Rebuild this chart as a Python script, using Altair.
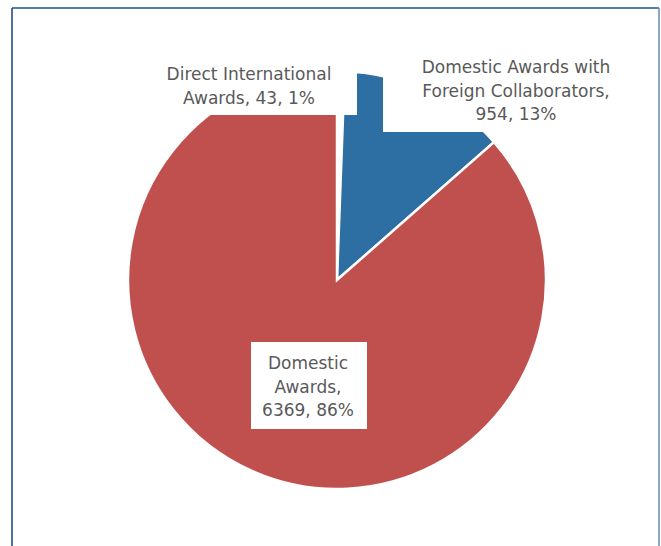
import altair as alt
import pandas as pd

# ---- data ----
categories = ["Direct International Awards",
              "Domestic Awards with Foreign Collaborators",
              "Domestic Awards"]
values = [43, 954, 6369]
name_lines = [["Direct International", "Awards"],
              ["Domestic Awards with", "Foreign Collaborators"],
              ["Domestic", "Awards"]]
colors = ["#ffffff", "#2d6ea3", "#c0504d"]

total = sum(values)
labels = []
for lines, v in zip(name_lines, values):
    pct = round(100 * v / total)
    if lines[0] == "Direct International":
        labels.append(f"{lines[0]}\n{lines[1]}, {v}, {pct}%")
    else:
        labels.append(f"{lines[0]}\n{lines[1]},\n{v}, {pct}%")

df = pd.DataFrame({"category": categories, "value": values,
                   "idx": list(range(len(categories))), "label": labels})

W, H = 661, 546
CX, CY, R = 337, 280, 209
TEXT = "#595959"
FONT = "DejaVu Sans"

base = alt.Chart(df)

pie = base.mark_arc(radius=R, stroke="white", strokeWidth=2.5).encode(
    theta=alt.Theta("value:Q", stack=True),
    order=alt.Order("idx:Q"),
    color=alt.Color("category:N",
                    scale=alt.Scale(domain=categories, range=colors),
                    legend=None),
    x=alt.value(CX), y=alt.value(CY),
)

def box(x1, x2, y1, y2):
    return alt.Chart(pd.DataFrame({"a": [0]})).mark_rect(fill="white").encode(
        x=alt.value(x1), x2=alt.value(x2), y=alt.value(y1), y2=alt.value(y2))

boxes = [box(143, 357, 55, 115), box(383, 655, 45, 132), box(251, 367, 342, 429)]

def label(cat, x, y):
    return base.transform_filter(alt.datum.category == cat).mark_text(
        font=FONT, fontSize=17, color=TEXT, align="center",
        baseline="alphabetic", lineBreak="\n", lineHeight=23.5
    ).encode(text="label:N", x=alt.value(x), y=alt.value(y))

texts = [label(categories[0], 249, 80),
         label(categories[1], 516, 73),
         label(categories[2], 308, 369)]

def rule(x1, x2, y1, y2, c):
    return alt.Chart(pd.DataFrame({"a": [0]})).mark_rule(color=c, strokeWidth=1.6).encode(
        x=alt.value(x1), x2=alt.value(x2), y=alt.value(y1), y2=alt.value(y2))

border = [rule(12, 12, 8, H, "#1f4e8c"),
          rule(12, 659, 8, 8, "#1f4e8c"),
          rule(659, 659, 8, H, "#7391b8")]

chart = alt.layer(pie, *boxes, *texts, *border).properties(
    width=W, height=H,
    autosize=alt.AutoSizeParams(type="none"),
    padding=0,
    background="white",
).configure_view(stroke=None)

chart.save("out.html", embed_options={"renderer": "svg", "actions": False})
